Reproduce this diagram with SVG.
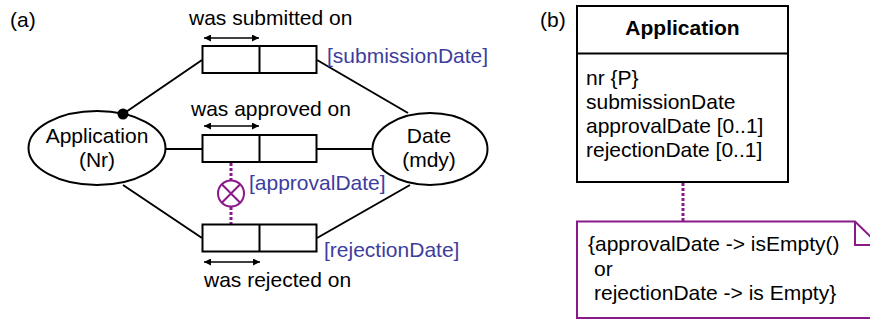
<svg xmlns="http://www.w3.org/2000/svg" width="870" height="320" viewBox="0 0 870 320">
<style>
text{font-family:"Liberation Sans",Arial,sans-serif;font-size:21px;fill:#000}
.c{text-anchor:middle}
.blue{fill:#3d3d9e}
.ln{stroke:#000;stroke-width:2;fill:none}
.box{stroke:#000;stroke-width:2;fill:#fff}
.arr{stroke:#000;stroke-width:1.5;fill:none;marker-start:url(#ah);marker-end:url(#ah)}
.dot{stroke:#8a1a8a;stroke-width:3;stroke-dasharray:3 2;fill:none}
.pur{stroke:#8a1a8a;stroke-width:2;fill:none}
</style>
<defs>
<marker id="ah" viewBox="0 0 10 10" refX="10" refY="5" markerWidth="8" markerHeight="7" markerUnits="userSpaceOnUse" orient="auto-start-reverse">
<path d="M0,0 L10,5 L0,10 z" fill="#000"/>
</marker>
</defs>
<text x="10" y="27">(a)</text>
<text x="540" y="27">(b)</text>
<g id="app">
<ellipse class="box" cx="97" cy="148" rx="68.5" ry="37"/>
<text class="c" x="97" y="143">Application</text>
<text class="c" x="97" y="167">(Nr)</text>
</g>
<g id="date">
<ellipse class="box" cx="430" cy="149" rx="57.5" ry="36"/>
<text class="c" x="429" y="143">Date</text>
<text class="c" x="429" y="167">(mdy)</text>
</g>
<g id="connectors">
<line class="ln" x1="123" y1="114" x2="202" y2="60"/>
<line class="ln" x1="166" y1="149" x2="202" y2="149"/>
<line class="ln" x1="123" y1="185" x2="202" y2="238"/>
<line class="ln" x1="317" y1="60" x2="408" y2="113"/>
<line class="ln" x1="317" y1="149" x2="373" y2="149"/>
<line class="ln" x1="317" y1="238" x2="410" y2="185"/>
<circle cx="123" cy="114" r="5.5" fill="#000"/>
<line class="dot" x1="231" y1="163" x2="231" y2="180"/>
<line class="dot" x1="231" y1="207" x2="231" y2="224"/>
<line class="dot" x1="683" y1="183" x2="683" y2="221"/>
</g>
<g id="submitted">
<text x="189" y="25">was submitted on</text>
<line class="arr" x1="204" y1="38" x2="259" y2="38"/>
<rect class="box" x="202.5" y="46" width="114" height="27"/>
<line class="ln" x1="259.5" y1="46" x2="259.5" y2="73"/>
<text class="blue" x="327" y="63">[submissionDate]</text>
</g>
<g id="approved">
<text x="191" y="116">was approved on</text>
<line class="arr" x1="204" y1="126" x2="259" y2="126"/>
<rect class="box" x="202.5" y="135" width="114" height="27"/>
<line class="ln" x1="259.5" y1="135" x2="259.5" y2="162"/>
<text class="blue" x="249" y="190">[approvalDate]</text>
</g>
<g id="exclusion">
<circle cx="231" cy="193.5" r="13" stroke="#8a1a8a" stroke-width="2" fill="none"/>
<line class="pur" x1="221.8" y1="184.3" x2="240.2" y2="202.7"/>
<line class="pur" x1="240.2" y1="184.3" x2="221.8" y2="202.7"/>
</g>
<g id="rejected">
<rect class="box" x="202.5" y="224.5" width="114" height="27"/>
<line class="ln" x1="259.5" y1="224.5" x2="259.5" y2="251.5"/>
<line class="arr" x1="204" y1="262" x2="260" y2="262"/>
<text x="204" y="287">was rejected on</text>
<text class="blue" x="324" y="257">[rejectionDate]</text>
</g>
<g id="class-application">
<rect class="box" x="577" y="6" width="211" height="176"/>
<line class="ln" x1="577" y1="53.5" x2="788" y2="53.5"/>
<text class="c" x="682.5" y="35" font-weight="bold">Application</text>
<text x="586" y="85">nr {P}</text>
<text x="586" y="109">submissionDate</text>
<text x="586" y="133">approvalDate [0..1]</text>
<text x="586" y="157">rejectionDate [0..1]</text>
</g>
<g id="note">
<path class="pur" d="M577,221.5 L855,221.5 L879,245 L879,318 L577,318 Z" fill="#fff"/>
<path class="pur" d="M855,221.5 L855,245 L879,245"/>
<text x="588" y="251">{approvalDate -&gt; isEmpty()</text>
<text x="594" y="276">or</text>
<text x="594" y="300">rejectionDate -&gt; is Empty}</text>
</g>
</svg>
